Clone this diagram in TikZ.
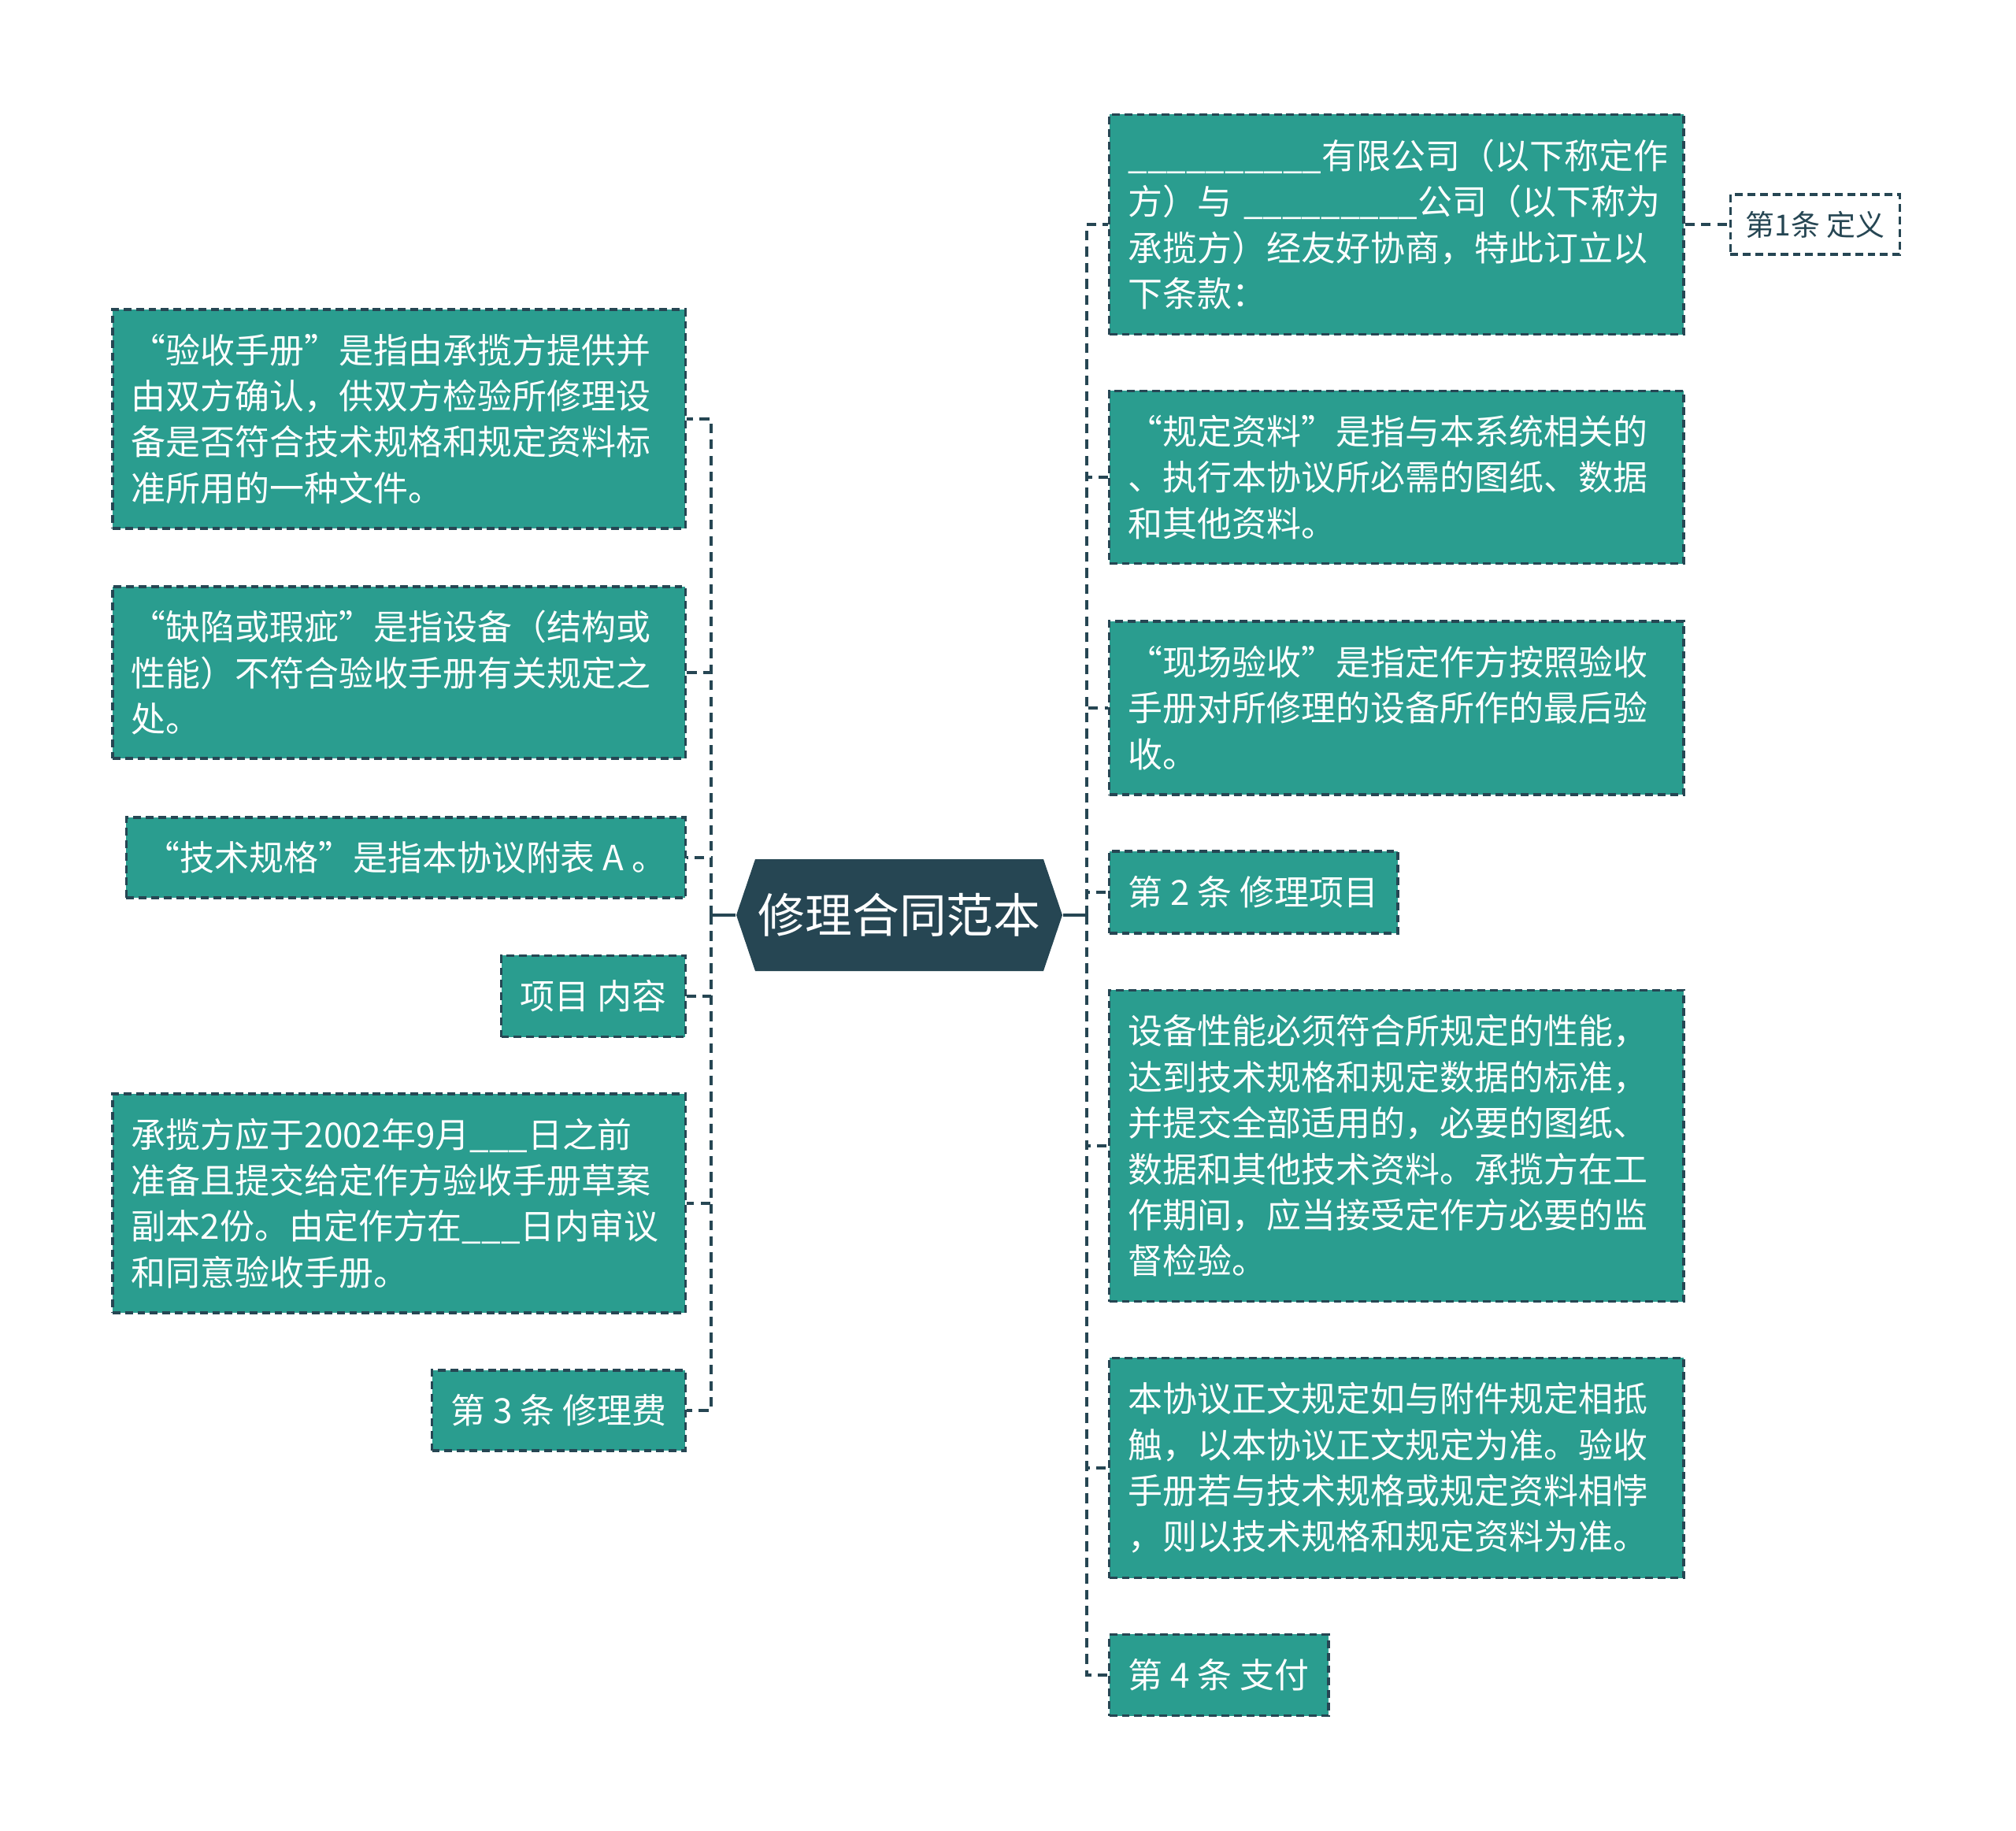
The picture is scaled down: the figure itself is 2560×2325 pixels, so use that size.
\documentclass[tikz,border=0pt]{standalone}
\usepackage{fontspec}
\setmainfont{Noto Sans CJK SC}
\definecolor{hubdark}{HTML}{264653}
\definecolor{leafteal}{HTML}{2A9D8F}
\tikzset{
  leaf/.style={rectangle, draw=hubdark, line width=0.95pt, dash pattern=on 2.8pt off 1.7pt,
    fill=leafteal, text=white, font=\fontsize{12.5pt}{16.6pt}\selectfont, align=left,
    inner xsep=0.24cm, inner ysep=0.1cm},
  tag/.style={rectangle, draw=hubdark, line width=0.95pt, dash pattern=on 2.8pt off 1.7pt,
    fill=white, text=hubdark, font=\fontsize{10.5pt}{13pt}\selectfont,
    minimum width=2.15cm, minimum height=0.76cm},
  hub/.style={minimum width=4.14cm, minimum height=1.42cm, text=white,
    font=\fontsize{17pt}{20pt}\selectfont},
  link/.style={draw=hubdark, line width=1.3pt, dash pattern=on 3.5pt off 2.3pt},
}
\begin{document}
\begin{tikzpicture}[x=0.01cm, y=-0.01cm]
        \useasboundingbox (0,0) rectangle (2560,2325);

        % centre
        \fill[hubdark] (935,1162) -- (959,1091) -- (1325,1091) -- (1349,1162) -- (1325,1233) -- (959,1233) -- cycle;
        \node[hub] (hub) at (1142,1162) {修理合同范本};

        % right side
        \node[leaf, text width=6.81cm, minimum height=2.79cm, anchor=west] (def) at (1407,285) {\_\_\_\_\_\_\_\_\_\_有限公司（以下称定作\\方）与 \_\_\_\_\_\_\_\_\_公司（以下称为\\承揽方）经友好协商，特此订立以\\下条款：};
        \node[tag] (art1) at (2305,285) {第1条 定义};
        \node[leaf, text width=6.81cm, minimum height=2.19cm, anchor=west] (data) at (1407,606) {“规定资料”是指与本系统相关的\\、执行本协议所必需的图纸、数据\\和其他资料。};
        \node[leaf, text width=6.81cm, minimum height=2.20cm, anchor=west] (site) at (1407,899) {“现场验收”是指定作方按照验收\\手册对所修理的设备所作的最后验\\收。};
        \node[leaf, minimum width=3.66cm, minimum height=1.04cm, anchor=west] (art2) at (1407,1133) {第 2 条 修理项目};
        \node[leaf, text width=6.81cm, minimum height=3.95cm, anchor=west] (perf) at (1407,1455) {设备性能必须符合所规定的性能，\\达到技术规格和规定数据的标准，\\并提交全部适用的，必要的图纸、\\数据和其他技术资料。承揽方在工\\作期间，应当接受定作方必要的监\\督检验。};
        \node[leaf, text width=6.81cm, minimum height=2.79cm, anchor=west] (rule) at (1407,1864) {本协议正文规定如与附件规定相抵\\触，以本协议正文规定为准。验收\\手册若与技术规格或规定资料相悖\\，则以技术规格和规定资料为准。};
        \node[leaf, minimum width=2.78cm, minimum height=1.03cm, anchor=west] (art4) at (1407,2127) {第 4 条 支付};

        % left side
        \node[leaf, text width=6.79cm, minimum height=2.78cm, anchor=east] (manual) at (872,532) {“验收手册”是指由承揽方提供并\\由双方确认，供双方检验所修理设\\备是否符合技术规格和规定资料标\\准所用的一种文件。};
        \node[leaf, text width=6.79cm, minimum height=2.18cm, anchor=east] (defect) at (872,854) {“缺陷或瑕疵”是指设备（结构或\\性能）不符合验收手册有关规定之\\处。};
        \node[leaf, minimum width=7.02cm, minimum height=1.02cm, anchor=east] (spec) at (872,1089) {“技术规格”是指本协议附表 A 。};
        \node[leaf, minimum width=2.32cm, minimum height=1.03cm, anchor=east] (item) at (872,1265) {项目 内容};
        \node[leaf, text width=6.79cm, minimum height=2.78cm, anchor=east] (draft) at (872,1528) {承揽方应于2002年9月\_\_\_日之前\\准备且提交给定作方验收手册草案\\副本2份。由定作方在\_\_\_日内审议\\和同意验收手册。};
        \node[leaf, minimum width=3.20cm, minimum height=1.02cm, anchor=east] (art3) at (872,1791) {第 3 条 修理费};

        % connectors
        \coordinate (rjoint) at (1380,1162);
        \coordinate (ljoint) at (903,1162);
        \draw[hubdark, line width=1pt] (hub.east) -- (rjoint);
        \draw[hubdark, line width=1pt] (hub.west) -- (ljoint);
        \foreach \leafname in {def,data,site,art2,perf,rule,art4}
            \draw[link] (rjoint) |- (\leafname.west);
        \foreach \leafname in {manual,defect,spec,item,draft,art3}
            \draw[link] (ljoint) |- (\leafname.east);
        \draw[link] (def.east) -- (art1.west);
    \end{tikzpicture}
\end{document}
